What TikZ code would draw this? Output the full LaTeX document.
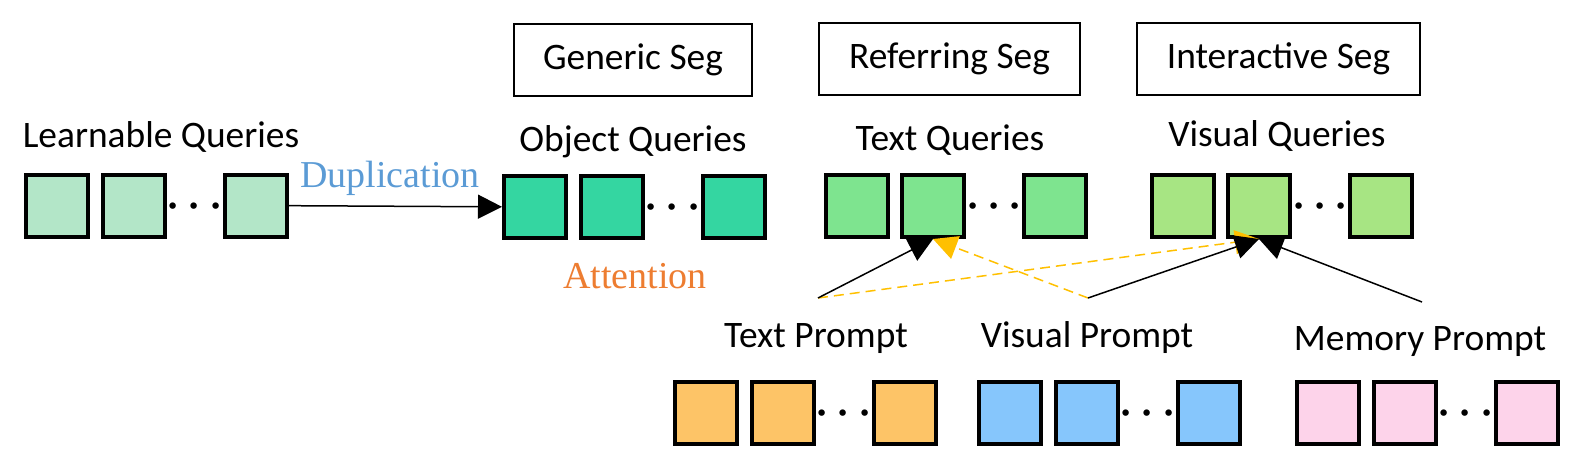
\documentclass[tikz,border=0pt]{standalone}
\usepackage{fontspec}
\setmainfont{Carlito}
\newfontfamily\timesfont{Liberation Serif}
\usetikzlibrary{arrows.meta}
\definecolor{learnfill}{HTML}{B3E6C8}
\definecolor{objfill}{HTML}{34D6A1}
\definecolor{tqfill}{HTML}{7EE48F}
\definecolor{vqfill}{HTML}{A7E583}
\definecolor{tpfill}{HTML}{FDC467}
\definecolor{vpfill}{HTML}{86C6FC}
\definecolor{mpfill}{HTML}{FDD3EA}
\definecolor{dupblue}{HTML}{5B9BD5}
\definecolor{attnorange}{HTML}{ED7D31}
\definecolor{attnyellow}{HTML}{FFC000}
\tikzset{
	>={Triangle[length=12pt,width=12pt]},
	query/.style={draw, line width=2pt, minimum size=31pt, inner sep=0pt},
	qdots/.style={inner sep=0pt, font=\fontsize{21}{21}\selectfont\boldmath},
	segbox/.style={draw, line width=0.9pt, inner sep=0pt, minimum height=36pt},
	qtitle/.style={anchor=base, inner sep=0pt},
	conn/.style={->, line width=0.75pt},
	attn/.style={->, line width=0.75pt, color=attnyellow, dash pattern=on 5pt off 3pt},
}

\begin{document}
\begin{tikzpicture}[
            x=0.5pt, y=-0.5pt,
            font=\fontsize{18.7}{22}\selectfont
        ]
        \useasboundingbox (0,0) rectangle (1581,467);
        % tasks
        \node[segbox, minimum width=119pt] (generic) at (633,60) {Generic Seg};
        \node[segbox, minimum width=130.6pt] (referring) at (949.5,59) {Referring Seg};
        \node[segbox, minimum width=141.6pt] (interactive) at (1278.5,59) {Interactive Seg};
        % query rows
        \foreach \row/\cx/\cy/\col in {learn/57/205.5/learnfill, obj/535/207/objfill,
                tq/856.5/206/tqfill, vq/1182.5/206/vqfill, tp/706/412.5/tpfill,
                vp/1010/412.5/vpfill, mp/1328/413/mpfill}{
                \node[query, fill=\col] (\row-1) at (\cx,\cy) {};
                \node[query, fill=\col] (\row-2) at ({\cx+76.5},\cy) {};
                \node[qdots] (\row-d) at ({\cx+137.5},{\cy+1}) {$\cdots$};
                \node[query, fill=\col] (\row-3) at ({\cx+198.5},\cy) {};
            }
        % titles
        \node[qtitle] (learn-t) at (161,147) {Learnable Queries};
        \node[qtitle] (obj-t) at (633,151.5) {Object Queries};
        \node[qtitle] (tq-t) at (950,150) {Text Queries};
        \node[qtitle] (vq-t) at (1277,146.5) {Visual Queries};
        \node[qtitle] (tp-t) at (816,347) {Text Prompt};
        \node[qtitle] (vp-t) at (1087,347) {Visual Prompt};
        \node[qtitle] (mp-t) at (1420,350) {Memory Prompt};
        \node[qtitle, anchor=base west, text=dupblue, font=\timesfont\fontsize{19}{22}\selectfont] (dup) at (300,187) {Duplication};
        \node[qtitle, text=attnorange, font=\timesfont\fontsize{19}{22}\selectfont] (attention) at (635,288) {Attention};
        % prompts
        \coordinate (tp-src) at (818,298);
        \coordinate (vp-src) at (1088,298);
        \coordinate (mp-src) at (1422,302);
        \draw[conn] (learn-3) -- (obj-1);
        \draw[attn] (tp-src) -- (vq-2.south);
        \draw[attn] (vp-src) -- (tq-2.south);
        \draw[conn] (tp-src) -- (tq-2.south);
        \draw[conn] (vp-src) -- (vq-2.south);
        \draw[conn] (mp-src) -- (vq-2.south);
    \end{tikzpicture}
\end{document}
